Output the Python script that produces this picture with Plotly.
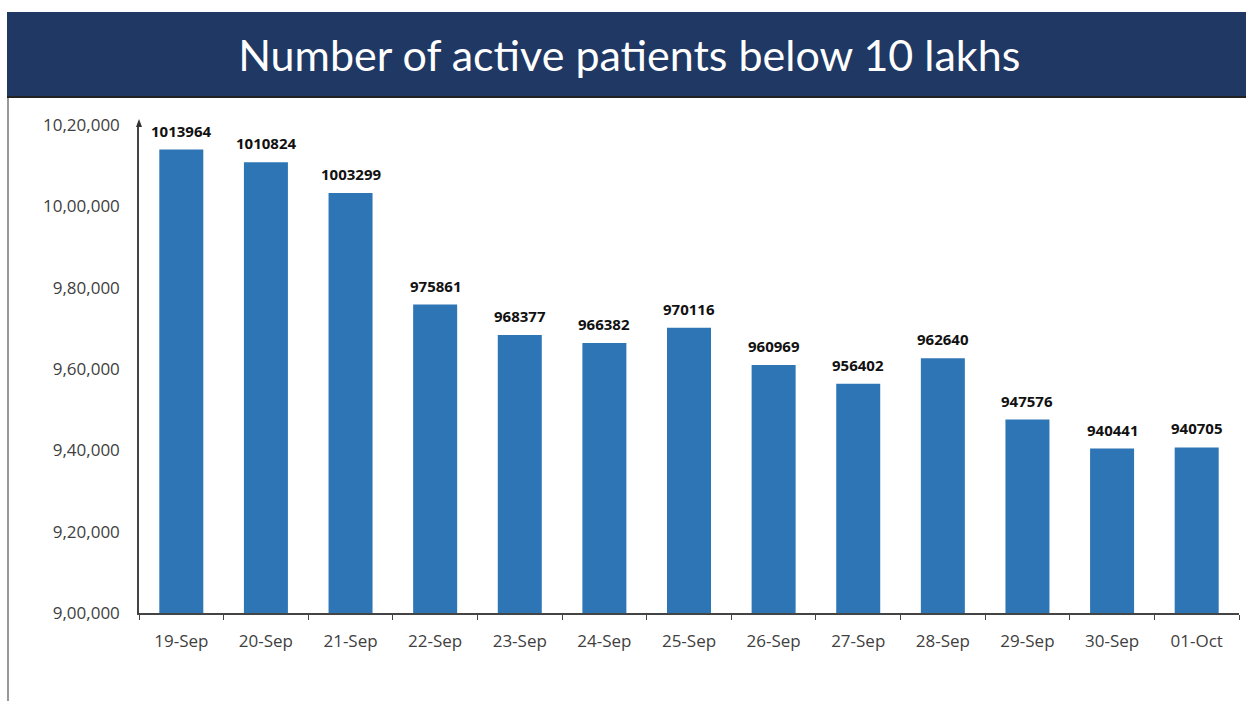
import plotly.graph_objects as go

dates = ["19-Sep", "20-Sep", "21-Sep", "22-Sep", "23-Sep", "24-Sep", "25-Sep",
         "26-Sep", "27-Sep", "28-Sep", "29-Sep", "30-Sep", "01-Oct"]
active = [1013964, 1010824, 1003299, 975861, 968377, 966382, 970116,
          960969, 956402, 962640, 947576, 940441, 940705]
tick_vals = [900000, 920000, 940000, 960000, 980000, 1000000, 1020000]
tick_text = ["9,00,000", "9,20,000", "9,40,000", "9,60,000", "9,80,000", "10,00,000", "10,20,000"]
title_text = "Number of active patients below 10 lakhs"

W, H = 1246, 701
L, R, T, B = 139, 7, 125, 88
pw, ph = W - L - R, H - T - B

def px(x):
    return (x - L) / pw

def py(y):
    return (H - B - y) / ph

fig = go.Figure()
fig.add_trace(go.Bar(
    x=dates, y=active,
    marker=dict(color="#2E75B6", line=dict(width=0)),
    cliponaxis=False,
    width=0.52,
    hoverinfo="x+y",
))

shapes = [
    dict(type="rect", xref="paper", yref="paper", x0=px(7), x1=px(W + 5), y0=py(96), y1=py(12),
         fillcolor="#1F3864", line=dict(width=0), layer="below"),
    dict(type="line", xref="paper", yref="paper", x0=px(7), x1=px(W + 5), y0=py(97), y1=py(97),
         line=dict(color="#222222", width=2)),
    dict(type="line", xref="paper", yref="paper", x0=px(8), x1=px(8), y0=py(98), y1=py(H + 5),
         line=dict(color="#777777", width=1.5)),
    dict(type="path", xref="paper", yref="paper",
         path=f"M {px(139)} {py(119)} L {px(136)} {py(127)} L {px(142)} {py(127)} Z",
         fillcolor="#333333", line=dict(width=0)),
]

annotations = [
    dict(x=d, y=v, xref="x", yref="y", text=f"<b>{v}</b>", showarrow=False,
         yanchor="bottom", yshift=7,
         font=dict(family="Open Sans", size=15, color="#111111"))
    for d, v in zip(dates, active)
]

fig.update_layout(
    width=W, height=H,
    margin=dict(l=L, r=R, t=T, b=B),
    paper_bgcolor="white", plot_bgcolor="white",
    showlegend=False,
    shapes=shapes,
    annotations=annotations,
    title=dict(text=title_text, x=0.505, xanchor="center", y=1 - 56 / H, yanchor="middle",
               font=dict(family="Lato", size=43, color="white")),
    xaxis=dict(
        showline=True, linecolor="#444444", linewidth=1.5,
        ticks="outside", tickson="boundaries", ticklen=5, tickcolor="#444444",
        ticklabelstandoff=12,
        tickfont=dict(family="Open Sans", size=17, color="#404040"),
        showgrid=False, fixedrange=True,
    ),
    yaxis=dict(
        range=[900000, 1020000],
        tickvals=tick_vals, ticktext=tick_text,
        showline=True, linecolor="#444444", linewidth=1.5,
        ticks="", ticklabelstandoff=14,
        tickfont=dict(family="Open Sans", size=17, color="#404040"),
        showgrid=False, zeroline=False, fixedrange=True,
    ),
)

fig.write_html("out.html", config={"displayModeBar": False},
               post_script="document.body.style.margin='0';document.body.style.overflow='hidden';")
